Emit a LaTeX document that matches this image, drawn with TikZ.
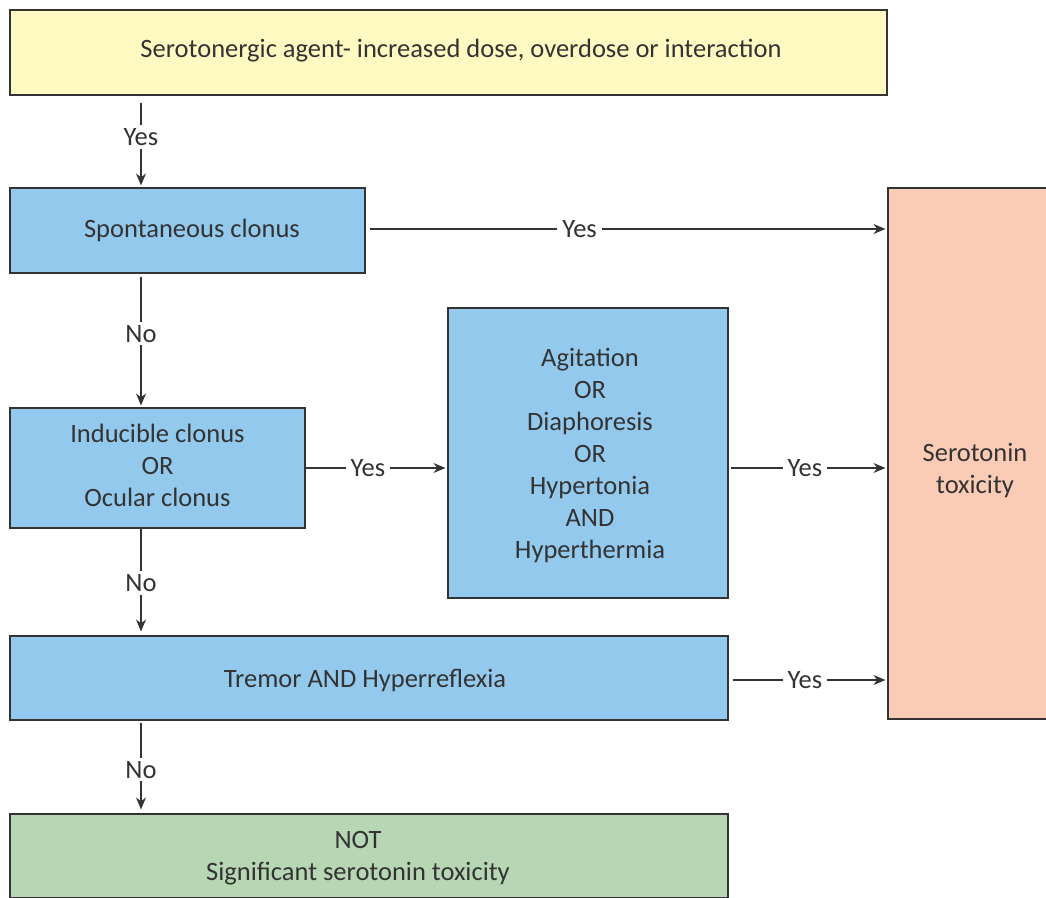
\documentclass[tikz,border=0pt]{standalone}
\usepackage{fontspec}
\setmainfont{Carlito}
\usetikzlibrary{arrows.meta}
\definecolor{cyellow}{RGB}{255,249,194}
\definecolor{cblue}{RGB}{147,201,236}
\definecolor{csalmon}{RGB}{250,203,181}
\definecolor{cgreen}{RGB}{183,214,180}
\definecolor{cink}{RGB}{51,51,51}
\tikzset{
  box/.style={draw=cink, line width=1.1pt, text=cink, align=center, inner sep=0pt,
    font=\fontsize{26.5}{32}\selectfont},
  txt/.style={text=cink, align=center, inner sep=0pt, font=\fontsize{26.5}{32}\selectfont},
  arr/.style={draw=cink, line width=1.2pt, -{Stealth[length=12pt,width=10pt]}},
  lbl/.style={fill=white, text=cink, inner xsep=5pt, inner ysep=3pt, font=\fontsize{26.5}{28}\selectfont}
}
\begin{document}
\begin{tikzpicture}[x=1pt,y=-1pt]
\useasboundingbox (0,0) rectangle (1046,897);
\clip (0,0) rectangle (1046,897);
\node[box, fill=cyellow, minimum width=877, minimum height=85] (agent) at (448.5,52.5) {};
\node[txt] (agenttxt) at (461,51) {Serotonergic agent- increased dose, overdose or interaction};
\node[box, fill=cblue, minimum width=355, minimum height=85] (spont) at (187.5,230.5) {};
\node[txt] (sponttxt) at (192,230) {Spontaneous clonus};
\node[box, fill=cblue, minimum width=295, minimum height=120] (induc) at (157.5,468) {};
\node[txt] (inductxt) at (157.5,465) {Inducible clonus\\OR\\Ocular clonus};
\node[box, fill=cblue, minimum width=280, minimum height=290] (agit) at (588,453) {};
\node[txt] (agittxt) at (590,455) {Agitation\\OR\\Diaphoresis\\OR\\Hypertonia\\AND\\Hyperthermia};
\node[box, fill=cblue, minimum width=718, minimum height=84] (tremor) at (369,678) {};
\node[txt] (tremortxt) at (365,681) {Tremor AND Hyperreflexia};
\node[box, fill=cgreen, minimum width=718, minimum height=84] (notsig) at (369,856) {};
\node[txt] (notsigtxt) at (358,858) {NOT\\Significant serotonin toxicity};
\node[box, fill=csalmon, minimum width=174, minimum height=531] (sero) at (975,453.5) {};
\node[txt] (serotxt) at (975,471) {Serotonin\\toxicity};
\coordinate (vx) at (141,0);
\draw[arr, shorten <=7pt, shorten >=2pt] (agent.south -| vx) -- node[lbl, pos=0.45] {Yes} (spont.north -| vx);
\draw[arr, shorten <=3pt, shorten >=2pt] (spont.south -| vx) -- node[lbl, pos=0.45] {No} (induc.north -| vx);
\draw[arr, shorten >=4pt] (induc.south -| vx) -- node[lbl, pos=0.51] {No} (tremor.north -| vx);
\draw[arr, shorten <=2pt, shorten >=4pt] (tremor.south -| vx) -- node[lbl, pos=0.53] {No} (notsig.north -| vx);
\draw[arr, shorten <=4pt, shorten >=2pt] (spont.east |- 0,229) -- node[lbl, pos=0.41] {Yes} (sero.west |- 0,229);
\draw[arr, shorten >=2pt] (induc.east) -- node[lbl, pos=0.44] {Yes} (agit.west |- induc.east);
\draw[arr, shorten <=2pt, shorten >=2pt] (agit.east |- induc.east) -- node[lbl, pos=0.48] {Yes} (sero.west |- induc.east);
\draw[arr, shorten <=4pt, shorten >=2pt] (tremor.east |- 0,680) -- node[lbl, pos=0.48] {Yes} (sero.west |- 0,680);
\end{tikzpicture}
\end{document}
